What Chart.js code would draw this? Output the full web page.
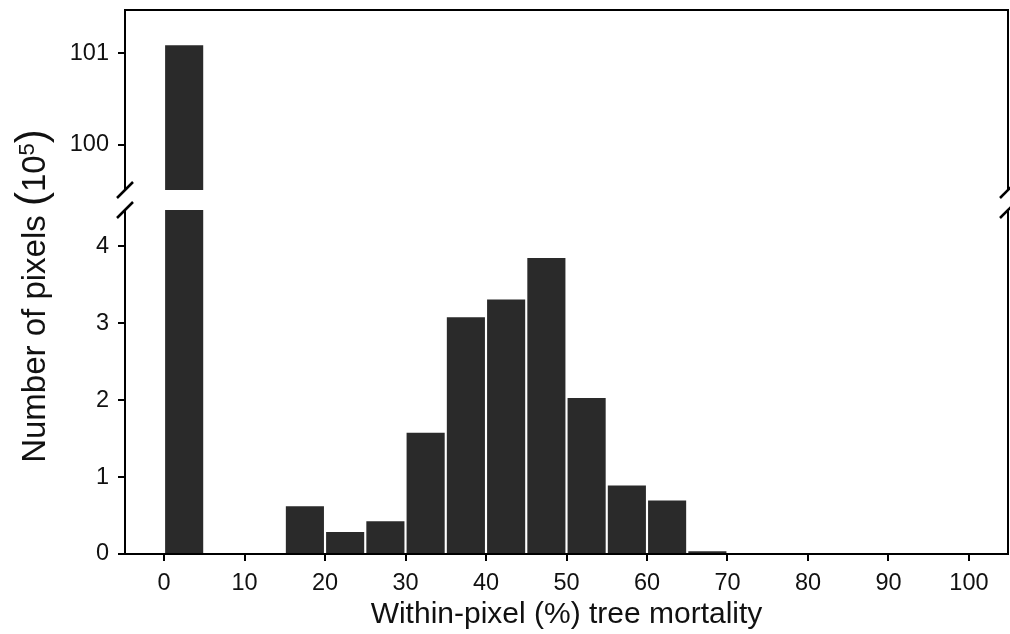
<!DOCTYPE html>
<html>
<head>
<meta charset="utf-8">
<script src="https://cdn.jsdelivr.net/npm/chart.js@4/dist/chart.umd.min.js"></script>
<style>
  html, body { margin: 0; padding: 0; background: #fff; }
  #wrap { position: relative; width: 1010px; height: 634px; }
  #wrap canvas { position: absolute; left: 0; top: 0; }
</style>
</head>
<body>
<div id="wrap">
  <canvas id="lower" width="1010" height="634"></canvas>
  <canvas id="upper" width="1010" height="200"></canvas>
</div>
<script>
// Histogram of within-pixel tree mortality, counts in units of 10^5 pixels
const binStart = [0, 5, 10, 15, 20, 25, 30, 35, 40, 45, 50, 55, 60, 65, 70, 75, 80, 85, 90, 95];
const binWidth = 5;
const pixelCounts = [101.1, 0, 0, 0.636, 0.30, 0.44, 1.59, 3.09, 3.32, 3.86, 2.04, 0.905, 0.71, 0.05, 0, 0, 0, 0, 0, 0];
const xTickValues = [0, 10, 20, 30, 40, 50, 60, 70, 80, 90, 100];
const lowerTickValues = [0, 1, 2, 3, 4];
const upperTickValues = [100, 101];

const FONT = "'Liberation Sans', Arial, Helvetica, sans-serif";
const INK = '#000';
const BAR_FILL = '#2a2a2a';

const X_MIN = -4.85, X_MAX = 104.85;
const AXIS_W = 125;        // width reserved for the y axis (ticks + labels)

const barPoints = binStart.map((s, i) => ({ x: s + binWidth / 2, y: pixelCounts[i] }));

function dataset() {
  return {
    data: barPoints,
    backgroundColor: BAR_FILL,
    borderColor: '#ffffff',
    borderWidth: 1.4,
    borderSkipped: 'start',
    barPercentage: 1,
    categoryPercentage: 1,
    clip: 0
  };
}

function fixedTicks(values) {
  return scale => { scale.ticks = values.map(v => ({ value: v })); };
}

function yScale(min, max, ticks) {
  return {
    type: 'linear',
    min, max,
    afterBuildTicks: fixedTicks(ticks),
    afterFit: s => { s.width = AXIS_W; s.paddingTop = 0; s.paddingBottom = 0; },
    grid: { display: true, offset: false, drawOnChartArea: false, drawTicks: true, tickLength: 7, lineWidth: 2, color: INK },
    border: { display: true, color: INK, width: 2 },
    ticks: { color: '#111', font: { family: FONT, size: 23.5 }, padding: 9 }
  };
}

// Diagonal "//" marks showing where the y axis is broken
function breakMark(ctx, x, y) {
  ctx.beginPath();
  ctx.moveTo(x - 8, y + 8);
  ctx.lineTo(x + 8, y - 8);
  ctx.stroke();
}

const upperFrame = {
  id: 'upperFrame',
  afterDraw(chart) {
    const { ctx, chartArea: a } = chart;
    ctx.save();
    ctx.strokeStyle = INK;
    ctx.lineWidth = 2;
    ctx.beginPath();
    ctx.moveTo(a.left - 1, a.top);
    ctx.lineTo(a.right, a.top);
    ctx.lineTo(a.right, a.bottom);
    ctx.stroke();
    ctx.lineWidth = 2.5;
    breakMark(ctx, a.left, a.bottom);
    breakMark(ctx, a.right, a.bottom);
    ctx.restore();
  }
};

const lowerFrame = {
  id: 'lowerFrame',
  afterDraw(chart) {
    const { ctx, chartArea: a } = chart;
    ctx.save();
    ctx.strokeStyle = INK;
    ctx.lineWidth = 2;
    ctx.beginPath();
    ctx.moveTo(a.right, a.top);
    ctx.lineTo(a.right, a.bottom + 1);
    ctx.stroke();
    ctx.lineWidth = 2.5;
    breakMark(ctx, a.left, a.top);
    breakMark(ctx, a.right, a.top);

    // x axis title
    ctx.fillStyle = '#111';
    ctx.font = '30px ' + FONT;
    ctx.textAlign = 'center';
    ctx.textBaseline = 'alphabetic';
    ctx.fillText('Within-pixel (%) tree mortality', (a.left + a.right) / 2, 623);

    // y axis title spanning both panels, with a superscript exponent
    const parts = [
      { t: 'Number of pixels ', size: 33, dy: 0 },
      { t: '(', size: 42, dy: 0 },
      { t: '10', size: 33, dy: 0 },
      { t: '5', size: 22, dy: -11 },
      { t: ')', size: 42, dy: 0 }
    ];
    let total = 0;
    parts.forEach(p => { ctx.font = p.size + 'px ' + FONT; p.w = ctx.measureText(p.t).width; total += p.w; });
    ctx.translate(45, 296);
    ctx.rotate(-Math.PI / 2);
    ctx.textAlign = 'left';
    let x = -total / 2;
    parts.forEach(p => {
      ctx.font = p.size + 'px ' + FONT;
      ctx.fillText(p.t, x, p.dy);
      x += p.w;
    });
    ctx.restore();
  }
};

const common = {
  responsive: false,
  animation: false,
  events: [],
  plugins: { legend: { display: false }, tooltip: { enabled: false } }
};

new Chart(document.getElementById('lower'), {
  type: 'bar',
  data: { datasets: [dataset()] },
  options: Object.assign({}, common, {
    layout: { padding: { top: 210, right: 2, bottom: 0, left: 0 } },
    scales: {
      x: {
        type: 'linear',
        min: X_MIN, max: X_MAX,
        offset: false,
        afterBuildTicks: fixedTicks(xTickValues),
        afterFit: s => { s.height = 80; s.paddingLeft = 0; s.paddingRight = 0; },
        grid: { display: true, offset: false, drawOnChartArea: false, drawTicks: true, tickLength: 7, lineWidth: 2, color: INK },
        border: { display: true, color: INK, width: 2 },
        ticks: { color: '#111', font: { family: FONT, size: 23.5 }, padding: 8, maxRotation: 0, autoSkip: false }
      },
      y: yScale(0, 4.47, lowerTickValues)
    }
  }),
  plugins: [lowerFrame]
});

new Chart(document.getElementById('upper'), {
  type: 'bar',
  data: { datasets: [dataset()] },
  options: Object.assign({}, common, {
    layout: { padding: { top: 10, right: 2, bottom: 10, left: 0 } },
    scales: {
      x: { type: 'linear', min: X_MIN, max: X_MAX, offset: false, display: false },
      y: yScale(99.509, 101.472, upperTickValues)
    }
  }),
  plugins: [upperFrame]
});
</script>
</body>
</html>
